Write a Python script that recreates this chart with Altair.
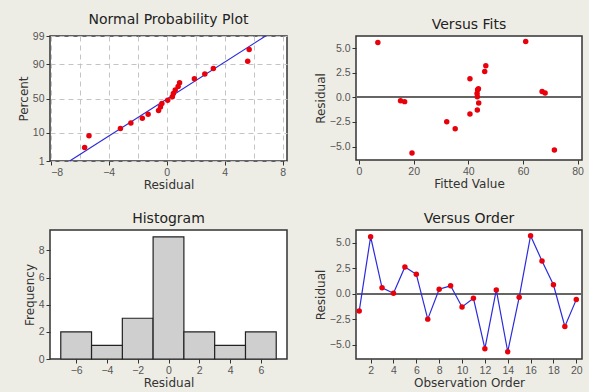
from statistics import NormalDist

import altair as alt
import pandas as pd

# Residuals of the fitted model, in observation order, with their fitted values
residuals = [-1.68, 5.59, 0.59, 0.07, 2.63, 1.91, -2.47, 0.46, 0.79, -1.28,
             -0.43, -5.36, 0.39, -5.66, -0.33, 5.69, 3.22, 0.89, -3.19, -0.56]
fitted = [40.6, 6.9, 67.0, 43.3, 46.0, 40.6, 32.1, 68.1, 43.4, 43.3,
          16.7, 71.5, 43.2, 19.4, 15.2, 61.0, 46.4, 43.7, 35.2, 43.8]
order = list(range(1, len(residuals) + 1))

# Tick labels
percent_ticks = [1, 10, 50, 90, 99]
npp_x_ticks = [-8, -6, -4, -2, 0, 2, 4, 6, 8]
resid_y_ticks = [-5.0, -2.5, 0.0, 2.5, 5.0]
fit_x_ticks = [0, 20, 40, 60, 80]
hist_x_ticks = [-6, -4, -2, 0, 2, 4, 6]
freq_ticks = [0, 2, 4, 6, 8]
order_ticks = [2, 4, 6, 8, 10, 12, 14, 16, 18, 20]

RED = "#e8000a"
BLUE = "#2b2bdc"
ZERO = "#666666"

df = pd.DataFrame({"order": order, "resid": residuals, "fit": fitted})
n = len(residuals)

# normal-score positions of the percent ticks
z_ticks = [NormalDist().inv_cdf(p / 100) for p in percent_ticks]
z_lo, z_hi = z_ticks[0], z_ticks[-1]


def axis(values, **kw):
    # explicit tick values; tickCount large enough that none are thinned out
    return alt.Axis(values=values, tickCount=len(values) + 1, **kw)


# ---------- Normal probability plot ----------
npp_x = alt.X(
    "resid:Q",
    title="Residual",
    scale=alt.Scale(domain=[-8.05, 8.3], nice=False, zero=False),
    axis=axis(
        npp_x_ticks,
        labelExpr="datum.value % 4 == 0 ? datum.label : ''",
        tickOpacity={"condition": {"test": "datum.value % 4 == 0", "value": 1}, "value": 0},
        grid=True, gridDash=[5, 4], gridColor="#c4c4c4",
    ),
)
npp_y = alt.Y(
    "z:Q",
    title="Percent",
    scale=alt.Scale(domain=[z_lo, z_hi], nice=False, zero=False),
    axis=axis(
        z_ticks,
        labelExpr="format(cumulativeNormal(datum.value) * 100, '.0f')",
        grid=True, gridDash=[5, 4], gridColor="#c4c4c4",
    ),
)

npp_points = (
    alt.Chart(df)
    .transform_window(rank="row_number()", sort=[alt.SortField("resid", order="ascending")])
    .transform_calculate(z=f"quantileNormal((datum.rank - 0.3) / ({n} + 0.4))")
    .mark_circle(size=30, color=RED, opacity=1)
    .encode(x=npp_x, y=npp_y)
)

npp_line = (
    alt.Chart(df)
    .transform_aggregate(m="mean(resid)", s="stdevp(resid)")
    .transform_calculate(
        xa=f"datum.m + datum.s * ({z_lo})",
        xb=f"datum.m + datum.s * ({z_hi})",
        ya=f"{z_lo}",
        yb=f"{z_hi}",
    )
    .mark_rule(color=BLUE, strokeWidth=1.2)
    .encode(x="xa:Q", x2="xb:Q", y="ya:Q", y2="yb:Q")
)

npp = alt.layer(npp_line, npp_points).properties(
    width=237, height=125, title="Normal Probability Plot"
)

# ---------- Versus fits ----------
resid_y = alt.Y(
    "resid:Q",
    title="Residual",
    scale=alt.Scale(domain=[-6.37, 6.25], nice=False, zero=False),
    axis=axis(resid_y_ticks, format=".1f"),
)

fits_zero = alt.Chart(df).mark_rule(color=ZERO, strokeWidth=1.3).encode(y=alt.datum(0))
fits_points = (
    alt.Chart(df)
    .mark_circle(size=30, color=RED, opacity=1)
    .encode(
        x=alt.X(
            "fit:Q",
            title="Fitted Value",
            scale=alt.Scale(domain=[-1.1, 81.6], nice=False, zero=False),
            axis=axis(fit_x_ticks),
        ),
        y=resid_y,
    )
)
fits = alt.layer(fits_zero, fits_points).properties(
    width=226, height=124, title="Versus Fits"
)

# ---------- Histogram ----------
hist = (
    alt.Chart(df)
    .transform_bin(["b0", "b1"], field="resid",
                   bin=alt.Bin(extent=[-7, 7], step=2, nice=False, anchor=-7))
    .transform_aggregate(count="count()", groupby=["b0", "b1"])
    .mark_bar(fill="#cfcfcf", stroke="#222222", strokeWidth=1.2)
    .encode(
        x=alt.X(
            "b0:Q",
            title="Residual",
            scale=alt.Scale(domain=[-7.7, 7.7], nice=False, zero=False),
            axis=axis(hist_x_ticks),
        ),
        x2="b1:Q",
        y=alt.Y(
            "count:Q",
            title="Frequency",
            scale=alt.Scale(domain=[0, 9.5], nice=False),
            axis=axis(freq_ticks),
        ),
        y2=alt.datum(0),
    )
    .properties(width=237, height=129, title="Histogram")
)

# ---------- Versus order ----------
order_x = alt.X(
    "order:Q",
    title="Observation Order",
    scale=alt.Scale(domain=[0.72, 20.5], nice=False, zero=False),
    axis=axis(order_ticks),
)
order_zero = alt.Chart(df).mark_rule(color=ZERO, strokeWidth=1.3).encode(y=alt.datum(0))
order_line = alt.Chart(df).mark_line(color=BLUE, strokeWidth=1.2).encode(x=order_x, y=resid_y)
order_points = alt.Chart(df).mark_circle(size=30, color=RED, opacity=1).encode(x=order_x, y=resid_y)
versus_order = alt.layer(order_zero, order_line, order_points).properties(
    width=226, height=129, title="Versus Order"
)

chart = (
    alt.vconcat(
        alt.hconcat(npp, fits, spacing=25),
        alt.hconcat(hist, versus_order, spacing=25),
        spacing=19,
    )
    .properties(padding={"left": 16, "top": 12, "right": 4, "bottom": 2})
    .configure(background="#eeede5")
    .configure_view(stroke="#333333", strokeWidth=1.5, fill="white")
    .configure_axis(
        domain=False,
        grid=False,
        labelOverlap=False,
        tickColor="#333333",
        tickSize=4,
        labelFont="Liberation Sans",
        labelFontSize=10.5,
        labelColor="#555555",
        labelPadding=2,
        titleFont="DejaVu Sans",
        titleFontSize=12,
        titleFontWeight="normal",
        titleColor="#333333",
        titlePadding=2,
    )
    .configure_title(font="DejaVu Sans", fontSize=14, fontWeight="normal",
                     color="#222222", offset=4)
)

chart.save("out.html", embed_options={"renderer": "svg", "actions": False})
